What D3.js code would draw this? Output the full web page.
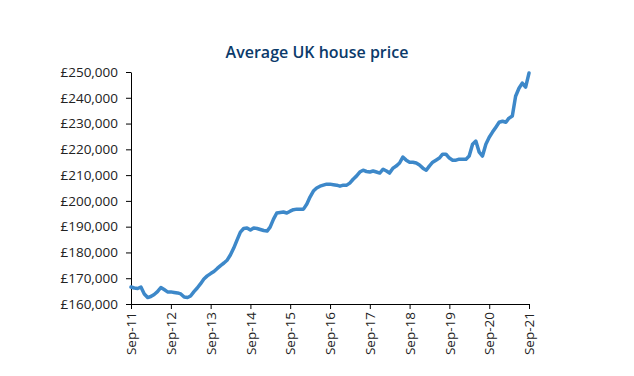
<!DOCTYPE html>
<html>
<head>
<meta charset="utf-8">
<script src="https://cdn.jsdelivr.net/npm/d3@7"></script>
<style>
  body { margin: 0; background: #fff; }
  svg { display: block; }
</style>
</head>
<body>
<svg width="634" height="376"></svg>
<script>
const title = "Average UK house price";
const startMonth = "2011-09";
// monthly average price, £ thousands, Sep-11 .. Sep-21
const prices = [
  166.6, 166.2, 166.0, 166.6,
  163.9, 162.5, 162.9, 163.7, 164.8, 166.4, 165.6, 164.7, 164.7, 164.5, 164.3, 163.9,
  162.7, 162.5, 163.1, 164.8, 166.2, 167.9, 169.7, 170.9, 171.8, 172.6, 173.8, 174.9,
  175.9, 177.1, 179.0, 181.7, 184.8, 187.9, 189.3, 189.5, 188.7, 189.5, 189.3, 188.9,
  188.5, 188.3, 189.8, 192.9, 195.3, 195.5, 195.7, 195.3, 196.0, 196.6, 196.8, 196.8,
  196.8, 198.8, 201.5, 203.8, 205.0, 205.7, 206.1, 206.5, 206.5, 206.3, 206.1, 205.7,
  206.1, 206.1, 206.9, 208.4, 209.6, 211.2, 211.9, 211.4, 211.2, 211.6, 211.2, 210.8,
  212.3, 211.6, 210.8, 212.7, 213.5, 214.7, 217.0, 215.8, 215.0, 215.0, 214.7, 213.9,
  212.7, 211.9, 213.5, 215.0, 215.8, 216.6, 218.1, 218.1, 216.6, 215.8, 215.8, 216.2,
  216.2, 216.2, 217.4, 222.0, 223.2, 218.9, 217.4, 222.0, 224.7, 226.7, 228.6, 230.5,
  230.9, 230.5, 232.1, 232.9, 240.6, 243.7, 245.7, 244.1, 249.6
];
const yTicks = [160, 170, 180, 190, 200, 210, 220, 230, 240, 250];
const xTickLabels = ["Sep-11", "Sep-12", "Sep-13", "Sep-14", "Sep-15", "Sep-16",
                     "Sep-17", "Sep-18", "Sep-19", "Sep-20", "Sep-21"];

const svg = d3.select("svg");
const parseMonth = d3.timeParse("%Y-%m");
const parseTick = d3.timeParse("%b-%y");
const start = parseMonth(startMonth);
const data = prices.map((v, i) => ({ date: d3.timeMonth.offset(start, i), value: v * 1000 }));

const x = d3.scaleTime()
  .domain([start, parseTick(xTickLabels[xTickLabels.length - 1])])
  .range([131, 529]);
const y = d3.scaleLinear()
  .domain([160000, 250000])
  .range([304, 72]);

const font = "'Open Sans', sans-serif";

svg.append("text")
  .attr("x", 317).attr("y", 58)
  .attr("text-anchor", "middle")
  .attr("font-family", font)
  .attr("font-size", 16)
  .attr("font-weight", 600)
  .attr("fill", "#0b3a6a")
  .text(title);

const yAxis = d3.axisLeft(y)
  .tickValues(yTicks.map(d => d * 1000))
  .tickSize(5)
  .tickSizeOuter(0)
  .tickPadding(8)
  .tickFormat(d => "£" + d3.format(",")(d));

const yG = svg.append("g")
  .attr("transform", "translate(131,0)")
  .call(yAxis);
yG.selectAll("text")
  .attr("font-family", font)
  .attr("font-size", 13.5)
  .attr("fill", "#222");

const xAxis = d3.axisBottom(x)
  .tickValues(xTickLabels.map(parseTick))
  .tickSize(5)
  .tickSizeOuter(0)
  .tickFormat(d3.timeFormat("%b-%y"));

const xG = svg.append("g")
  .attr("transform", "translate(0,304)")
  .call(xAxis);
xG.selectAll("text")
  .attr("font-family", font)
  .attr("font-size", 13.5)
  .attr("fill", "#222")
  .attr("transform", "rotate(-90)")
  .attr("x", -8)
  .attr("y", 0)
  .attr("dy", "0.35em")
  .style("text-anchor", "end");

svg.selectAll(".domain, .tick line").attr("stroke", "#000");

svg.append("path")
  .datum(data)
  .attr("fill", "none")
  .attr("stroke", "#3d88c9")
  .attr("stroke-width", 3.5)
  .attr("stroke-linejoin", "round")
  .attr("stroke-linecap", "round")
  .attr("d", d3.line()
    .x(d => x(d.date))
    .y(d => y(d.value))
  );
</script>
</body>
</html>
